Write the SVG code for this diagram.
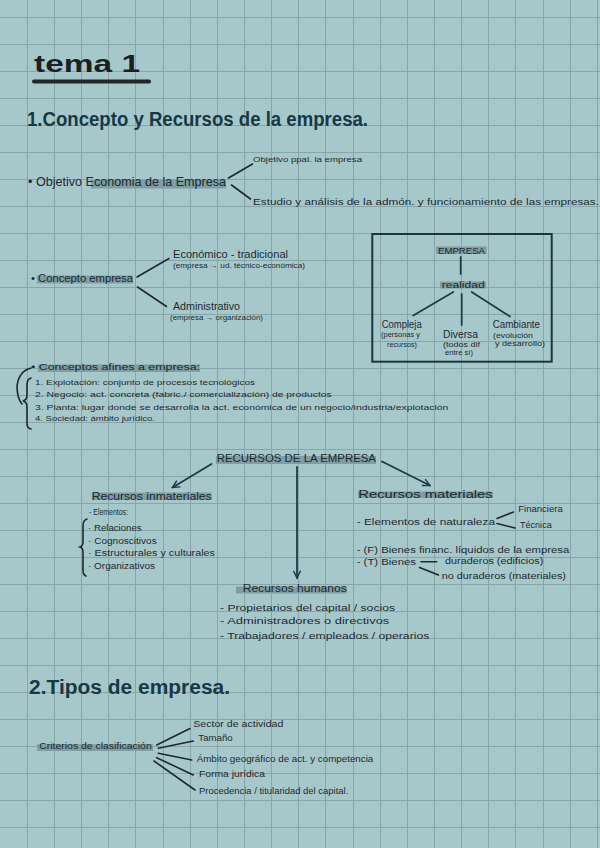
<svg xmlns="http://www.w3.org/2000/svg" width="600" height="848" viewBox="0 0 600 848">
<defs>
<style>
.t{font-family:"Liberation Sans","DejaVu Sans",sans-serif;fill:#1e2830}
.h{font-family:"Liberation Sans","DejaVu Sans",sans-serif;fill:#173846;font-weight:bold}
.hl{fill:#7e9ea3}
.ln{stroke:#1e2830;stroke-width:1.6;fill:none;stroke-linecap:round}
.tl{stroke:#1b3b4b;stroke-width:1.8;fill:none;stroke-linecap:round}
</style>
<marker id="ah" viewBox="0 0 10 10" refX="9" refY="5" markerWidth="9" markerHeight="9" markerUnits="userSpaceOnUse" orient="auto">
<path d="M1,1 L9,5 L1,9" fill="none" stroke="#1b3b4b" stroke-width="1.6"/>
</marker>
</defs>
<rect width="600" height="848" fill="#a7c8ca"/>
<path stroke="#86a6a9" stroke-width="1" fill="none" d="M27.5 0V848M54.5 0V848M81.5 0V848M108.5 0V848M135.5 0V848M163.5 0V848M190.5 0V848M217.5 0V848M244.5 0V848M271.5 0V848M298.5 0V848M325.5 0V848M353.5 0V848M380.5 0V848M407.5 0V848M434.5 0V848M461.5 0V848M488.5 0V848M515.5 0V848M543.5 0V848M570.5 0V848M597.5 0V848M0 17.5H600M0 44.5H600M0 71.5H600M0 98.5H600M0 125.5H600M0 152.5H600M0 179.5H600M0 206.5H600M0 233.5H600M0 260.5H600M0 287.5H600M0 314.5H600M0 341.5H600M0 368.5H600M0 395.5H600M0 422.5H600M0 449.5H600M0 476.5H600M0 503.5H600M0 530.5H600M0 557.5H600M0 584.5H600M0 611.5H600M0 638.5H600M0 665.5H600M0 692.5H600M0 719.5H600M0 746.5H600M0 773.5H600M0 800.5H600M0 827.5H600"/>

<g id="title">
<text class="t" x="34" y="72" font-size="23" font-weight="bold" textLength="106" lengthAdjust="spacingAndGlyphs" style="fill:#1c1f22">tema 1</text>
<line x1="34" y1="81.5" x2="149" y2="81.5" stroke="#23272a" stroke-width="4" stroke-linecap="round"/>
</g>
<g id="heading1"><text class="h" x="27" y="126" font-size="20" textLength="341" lengthAdjust="spacingAndGlyphs">1.Concepto y Recursos de la empresa.</text></g>

<g id="connectors">
<line class="ln" x1="228.5" y1="178" x2="252.5" y2="164"/>
<line class="ln" x1="231.5" y1="185" x2="250.5" y2="199"/>
<line class="ln" x1="137" y1="277" x2="169" y2="258.5"/>
<line class="ln" x1="137.5" y1="287" x2="166.5" y2="306.5"/>
<line class="tl" x1="460.7" y1="257" x2="460.7" y2="274"/>
<line class="tl" x1="453.3" y1="292" x2="413.3" y2="315.5"/>
<line class="tl" x1="461.7" y1="294" x2="461.7" y2="325"/>
<line class="tl" x1="471.7" y1="292" x2="510" y2="316.5"/>
<line class="tl" x1="211.5" y1="464" x2="172.5" y2="487.5" marker-end="url(#ah)"/>
<line class="tl" x1="382" y1="461.5" x2="430" y2="485.5" marker-end="url(#ah)"/>
<line class="tl" x1="297" y1="467" x2="297" y2="578" marker-end="url(#ah)"/>
<line class="ln" x1="497" y1="518.5" x2="513.5" y2="512"/>
<line class="ln" x1="497" y1="523.5" x2="515" y2="528"/>
<line class="ln" x1="421" y1="561.7" x2="436.7" y2="561.7"/>
<line class="ln" x1="419.5" y1="567.5" x2="438.5" y2="575"/>
<line class="ln" x1="156.7" y1="745" x2="190" y2="728.5"/>
<line class="ln" x1="158.3" y1="748.3" x2="193.3" y2="741"/>
<line class="ln" x1="158.3" y1="753.3" x2="191.7" y2="760"/>
<line class="ln" x1="156.7" y1="757.7" x2="193.3" y2="775"/>
<line class="ln" x1="154" y1="761" x2="195" y2="790"/>
</g>

<g id="objetivo">
<rect class="hl" x="91" y="180" width="135" height="8.5"/>
<text class="t" x="28" y="186" font-size="12" textLength="198" lengthAdjust="spacingAndGlyphs">• Objetivo Economia de la Empresa</text>
</g>
<g id="objetivo-ppal"><text class="t" x="253" y="162" font-size="8" textLength="109" lengthAdjust="spacingAndGlyphs">Objetivo ppal. la empresa</text></g>
<g id="estudio"><text class="t" x="253" y="205" font-size="9" textLength="346" lengthAdjust="spacingAndGlyphs">Estudio y análisis de la admón. y funcionamiento de las empresas.</text></g>

<g id="concepto">
<rect class="hl" x="37" y="275.5" width="96" height="8"/>
<text class="t" x="31" y="282" font-size="11" textLength="102" lengthAdjust="spacingAndGlyphs">• Concepto   empresa</text>
</g>
<g id="economico">
<text class="t" x="173" y="258" font-size="10" textLength="115" lengthAdjust="spacingAndGlyphs">Económico - tradicional</text>
<text class="t" x="173" y="268" font-size="7" textLength="132" lengthAdjust="spacingAndGlyphs">(empresa → ud. técnico-económica)</text>
</g>
<g id="administrativo">
<text class="t" x="173" y="310" font-size="10" textLength="67" lengthAdjust="spacingAndGlyphs">Administrativo</text>
<text class="t" x="170" y="320" font-size="7" textLength="93" lengthAdjust="spacingAndGlyphs">(empresa → organización)</text>
</g>

<g id="empresa-box">
<rect x="372.3" y="234" width="179.4" height="127.7" fill="none" stroke="#1b3444" stroke-width="2"/>
</g>
<g id="empresa">
<rect class="hl" x="436" y="246.5" width="50.5" height="7.5"/>
<text class="t" x="438" y="253.5" font-size="9" textLength="47" lengthAdjust="spacingAndGlyphs">EMPRESA</text>
</g>
<g id="realidad">
<rect class="hl" x="440" y="281.5" width="46" height="7"/>
<text class="t" x="441.7" y="287.7" font-size="9" textLength="43" lengthAdjust="spacingAndGlyphs">realidad</text>
</g>
<g id="compleja">
<text class="t" x="381.7" y="328.3" font-size="10" textLength="40" lengthAdjust="spacingAndGlyphs">Compleja</text>
<text class="t" x="381" y="336.7" font-size="6.5" textLength="39" lengthAdjust="spacingAndGlyphs">(personas y</text>
<text class="t" x="387" y="346.7" font-size="6.5" textLength="30" lengthAdjust="spacingAndGlyphs">recursos)</text>
</g>
<g id="diversa">
<text class="t" x="443" y="338.3" font-size="10" textLength="35" lengthAdjust="spacingAndGlyphs">Diversa</text>
<text class="t" x="443" y="346.7" font-size="6.5" textLength="37" lengthAdjust="spacingAndGlyphs">(todos dif</text>
<text class="t" x="445" y="355" font-size="6.5" textLength="28" lengthAdjust="spacingAndGlyphs">entre sí)</text>
</g>
<g id="cambiante">
<text class="t" x="492.7" y="328.3" font-size="10" textLength="47.3" lengthAdjust="spacingAndGlyphs">Cambiante</text>
<text class="t" x="493" y="337.7" font-size="6.5" textLength="40" lengthAdjust="spacingAndGlyphs">(evolución</text>
<text class="t" x="495" y="345.7" font-size="6.5" textLength="50" lengthAdjust="spacingAndGlyphs">y desarrollo)</text>
</g>

<g id="conceptos-afines">
<rect class="hl" x="38" y="364.5" width="162" height="7.5"/>
<text class="t" x="31" y="370" font-size="9.5" textLength="169" lengthAdjust="spacingAndGlyphs">• Conceptos   afines   a   empresa:</text>
<path class="ln" d="M31 368 Q19 371 17 386 Q17 398 22 404" stroke-width="1.3"/>
<path class="ln" d="M31 378 Q27 379 27 385 L27 395 Q27 400 23 401 Q27 402 27 407 L27 424 Q27 428 31 429" stroke-width="1.3"/>
<text class="t" x="35" y="384.5" font-size="8" textLength="220" lengthAdjust="spacingAndGlyphs">1. Explotación: conjunto de procesos tecnológicos</text>
<text class="t" x="35" y="397" font-size="8" textLength="296.7" lengthAdjust="spacingAndGlyphs">2. Negocio: act. concreta (fabric./ comercialización) de productos</text>
<text class="t" x="35" y="409.5" font-size="8" textLength="413.3" lengthAdjust="spacingAndGlyphs">3. Planta: lugar donde se desarrolla la act. económica de un negocio/industria/explotación</text>
<text class="t" x="35" y="420.5" font-size="8" textLength="120" lengthAdjust="spacingAndGlyphs">4. Sociedad: ámbito jurídico.</text>
</g>

<g id="recursos-empresa">
<rect class="hl" x="216" y="456" width="160" height="8"/>
<text class="t" x="216.7" y="462" font-size="11.5" textLength="159.3" lengthAdjust="spacingAndGlyphs">RECURSOS DE LA EMPRESA</text>
</g>

<g id="recursos-inmateriales">
<rect class="hl" x="91.7" y="492.5" width="120" height="7.5"/>
<text class="t" x="91.7" y="500" font-size="10" textLength="120" lengthAdjust="spacingAndGlyphs">Recursos  inmateriales</text>
<text class="t" x="89" y="515" font-size="9.5" textLength="39" lengthAdjust="spacingAndGlyphs">- Elementos:</text>
<path class="ln" d="M87 519 Q83 520 83 526 L83 542 Q83 546 80 547 Q83 548 83 552 L83 570 Q83 575 86 576" stroke-width="1.3"/>
<text class="t" x="88" y="530.5" font-size="8.5" textLength="53.7" lengthAdjust="spacingAndGlyphs">· Relaciones</text>
<text class="t" x="88" y="544" font-size="8.5" textLength="68.7" lengthAdjust="spacingAndGlyphs">· Cognoscitivos</text>
<text class="t" x="88" y="556" font-size="8.5" textLength="127" lengthAdjust="spacingAndGlyphs">· Estructurales  y    culturales</text>
<text class="t" x="88" y="568.5" font-size="8.5" textLength="67" lengthAdjust="spacingAndGlyphs">· Organizativos</text>
</g>

<g id="recursos-materiales">
<rect class="hl" x="358" y="491.5" width="135" height="6.5"/>
<text class="t" x="358.3" y="498.3" font-size="10" textLength="134.4" lengthAdjust="spacingAndGlyphs">Recursos    materiales</text>
<text class="t" x="356.7" y="525" font-size="8.5" textLength="138.3" lengthAdjust="spacingAndGlyphs">- Elementos  de  naturaleza</text>
<text class="t" x="518.3" y="511.7" font-size="8.5" textLength="44.4" lengthAdjust="spacingAndGlyphs">Financiera</text>
<text class="t" x="520" y="528.3" font-size="8.5" textLength="31.7" lengthAdjust="spacingAndGlyphs">Técnica</text>
<text class="t" x="356.7" y="552.7" font-size="8.5" textLength="212.6" lengthAdjust="spacingAndGlyphs">- (F) Bienes  financ. líquidos  de  la  empresa</text>
<text class="t" x="356.7" y="565" font-size="8.5" textLength="59.3" lengthAdjust="spacingAndGlyphs">- (T) Bienes</text>
<text class="t" x="445" y="564" font-size="8.5" textLength="98.3" lengthAdjust="spacingAndGlyphs">duraderos (edificios)</text>
<text class="t" x="441.7" y="578.7" font-size="8.5" textLength="124.3" lengthAdjust="spacingAndGlyphs">no duraderos (materiales)</text>
</g>

<g id="recursos-humanos">
<rect class="hl" x="236" y="586.5" width="111" height="7"/>
<text class="t" x="242.7" y="591.7" font-size="10" textLength="104" lengthAdjust="spacingAndGlyphs">Recursos humanos</text>
<text class="t" x="220" y="611" font-size="9" textLength="175" lengthAdjust="spacingAndGlyphs">- Propietarios  del  capital / socios</text>
<text class="t" x="220" y="624.3" font-size="9" textLength="169.3" lengthAdjust="spacingAndGlyphs">- Administradores   o   directivos</text>
<text class="t" x="220" y="639" font-size="9" textLength="209.3" lengthAdjust="spacingAndGlyphs">- Trabajadores / empleados / operarios</text>
</g>

<g id="heading2"><text class="h" x="29" y="694" font-size="20" textLength="201" lengthAdjust="spacingAndGlyphs">2.Tipos de empresa.</text></g>

<g id="criterios">
<rect class="hl" x="37" y="744.3" width="116" height="6.7"/>
<text class="t" x="39.3" y="749" font-size="9" textLength="112.4" lengthAdjust="spacingAndGlyphs">Criterios  de  clasificación</text>
</g>
<g id="sector"><text class="t" x="193.3" y="726.7" font-size="8.5" textLength="90" lengthAdjust="spacingAndGlyphs">Sector de actividad</text></g>
<g id="tamano"><text class="t" x="198.3" y="741" font-size="8.5" textLength="34.4" lengthAdjust="spacingAndGlyphs">Tamaño</text></g>
<g id="ambito"><text class="t" x="196.7" y="761.7" font-size="8.5" textLength="176.6" lengthAdjust="spacingAndGlyphs">Ámbito geográfico de act. y competencia</text></g>
<g id="forma"><text class="t" x="199" y="777.3" font-size="8.5" textLength="66" lengthAdjust="spacingAndGlyphs">Forma jurídica</text></g>
<g id="procedencia"><text class="t" x="199" y="794" font-size="8.5" textLength="149.3" lengthAdjust="spacingAndGlyphs">Procedencia / titularidad del capital.</text></g>
</svg>
